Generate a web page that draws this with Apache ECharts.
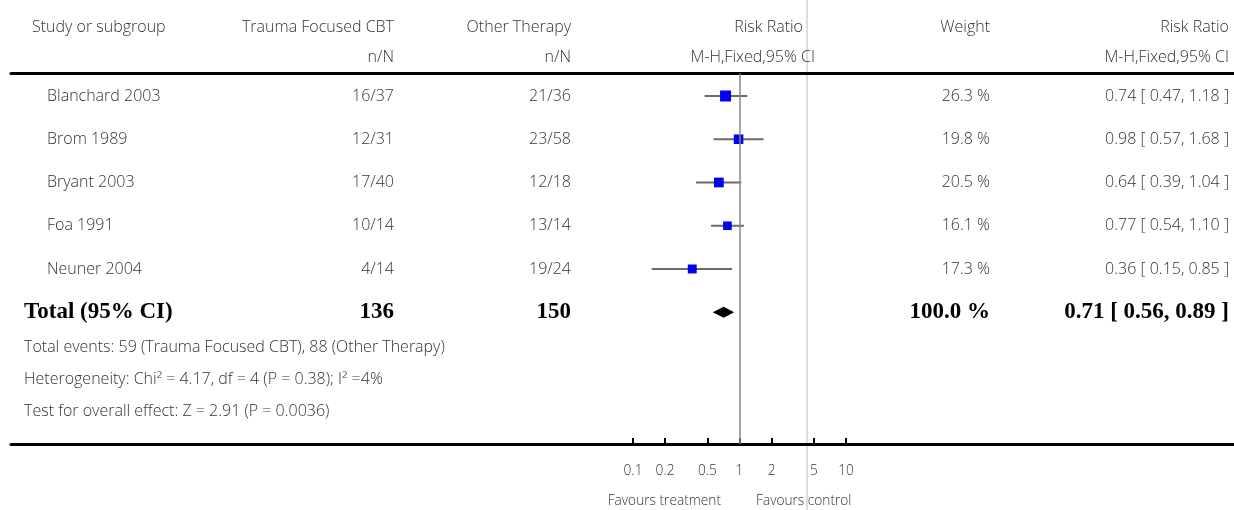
<!DOCTYPE html>
<html>
<head>
<meta charset="utf-8">
<script src="https://cdn.jsdelivr.net/npm/echarts@6/dist/echarts.min.js"></script>
<style>
  html, body { margin: 0; padding: 0; background: #fff; }
  #chart { width: 1234px; height: 510px; }
</style>
</head>
<body>
<div id="chart"></div>
<script>
// study rows
let studies = ['Blanchard 2003', 'Brom 1989', 'Bryant 2003', 'Foa 1991', 'Neuner 2004'];
let treatN = ['16/37', '12/31', '17/40', '10/14', '4/14'];
let controlN = ['21/36', '23/58', '12/18', '13/14', '19/24'];
let riskRatio = [0.74, 0.98, 0.64, 0.77, 0.36];
let ciLow = [0.47, 0.57, 0.39, 0.54, 0.15];
let ciHigh = [1.18, 1.68, 1.04, 1.10, 0.85];
let weights = [26.3, 19.8, 20.5, 16.1, 17.3];

// pooled result
let totalLabel = 'Total (95% CI)';
let totalN = [136, 150];
let totalRR = [0.71, 0.56, 0.89];
let totalWeight = 100.0;

let footnotes = [
  'Total events: 59 (Trauma Focused CBT), 88 (Other Therapy)',
  'Heterogeneity: Chi\u00b2 = 4.17, df = 4 (P = 0.38); I\u00b2 =4%',
  'Test for overall effect: Z = 2.91 (P = 0.0036)'
];

let ticks = [0.1, 0.2, 0.5, 1, 2, 5, 10];
let tickLabels = ['0.1', '0.2', '0.5', '1', '2', '5', '10'];

let font = '"Open Sans", Lato, sans-serif';
let txt = '#333';
let normalFont = '300 16px ' + font;
let smallFont = '300 13.7px ' + font;
let boldFont = 'bold 23px "Liberation Serif", "DejaVu Serif", serif';
let totalRow = studies.length;

function fmt(v) { return v.toFixed(2); }
function ciText(r, l, h) { return fmt(r) + ' [ ' + fmt(l) + ', ' + fmt(h) + ' ]'; }

// one column of text cells placed through the table grid's axes
function textColumn(x, align, texts, rows, f, color) {
  return {
    type: 'custom',
    xAxisIndex: 0,
    yAxisIndex: 0,
    silent: true,
    clip: false,
    data: texts.map((t, i) => [x, rows[i]]),
    renderItem: function (params, api) {
      let p = api.coord([api.value(0), api.value(1)]);
      return {
        type: 'text',
        x: p[0],
        y: p[1],
        style: {
          text: texts[params.dataIndex],
          textAlign: align,
          textVerticalAlign: 'middle',
          font: f,
          fill: color || txt
        }
      };
    }
  };
}

function label(x, y, text, align, f) {
  return {type: 'text', x: x, y: y, style: {text: text, font: f || normalFont, fill: txt, textAlign: align || 'left', textVerticalAlign: 'middle'}};
}

let studyRows = studies.map((s, i) => i);
let rowY = {min: -0.52, max: 8.047};

let forestData = riskRatio.map((r, i) => [r, i, ciLow[i], ciHigh[i], weights[i]]);

let option = {
  animation: false,
  grid: [
    {left: 11, right: 0, top: 73.5, bottom: 66},
    {left: 633, width: 213, top: 73.5, bottom: 66}
  ],
  xAxis: [
    {
      gridIndex: 0, type: 'value', min: 11, max: 1234, position: 'bottom',
      axisLine: {show: true, onZero: false, lineStyle: {color: '#000', width: 3}},
      axisTick: {show: false}, axisLabel: {show: false}, splitLine: {show: false}
    },
    {
      gridIndex: 0, type: 'value', min: 11, max: 1234, position: 'top',
      axisLine: {show: true, onZero: false, lineStyle: {color: '#000', width: 3}},
      axisTick: {show: false}, axisLabel: {show: false}, splitLine: {show: false}
    },
    {
      gridIndex: 1, type: 'log', logBase: 10, min: 0.1, max: 10, position: 'bottom',
      axisLine: {show: false, onZero: false},
      axisTick: {show: true, inside: true, length: 6, customValues: ticks, lineStyle: {color: '#000', width: 2}},
      axisLabel: {
        show: true, customValues: ticks, margin: 20, color: txt, fontFamily: font, fontSize: 13.7, fontWeight: 300,
        formatter: function (v) { return tickLabels[ticks.indexOf(v)] || ''; }
      },
      splitLine: {show: false}
    }
  ],
  yAxis: [
    {gridIndex: 0, type: 'value', inverse: true, min: rowY.min, max: rowY.max, show: false},
    {gridIndex: 1, type: 'value', inverse: true, min: rowY.min, max: rowY.max, show: false}
  ],
  graphic: [
    {type: 'line', shape: {x1: 807, y1: 0, x2: 807, y2: 510}, style: {stroke: '#ddd', lineWidth: 2}, z: -1},
    label(32, 27, 'Study or subgroup'),
    label(394, 27, 'Trauma Focused CBT', 'right'),
    label(394, 57, 'n/N', 'right'),
    label(571, 27, 'Other Therapy', 'right'),
    label(571, 57, 'n/N', 'right'),
    label(803, 27, 'Risk Ratio', 'right'),
    label(815, 57, 'M-H,Fixed,95% CI', 'right'),
    label(990, 27, 'Weight', 'right'),
    label(1229, 27, 'Risk Ratio', 'right'),
    label(1229, 57, 'M-H,Fixed,95% CI', 'right'),
    label(24, 347, footnotes[0]),
    label(24, 379, footnotes[1]),
    label(24, 411, footnotes[2]),
    label(721, 501, 'Favours treatment', 'right', smallFont),
    label(756, 501, 'Favours control', 'left', smallFont)
  ],
  series: [
    textColumn(47, 'left', studies, studyRows, normalFont),
    textColumn(394, 'right', treatN, studyRows, normalFont),
    textColumn(571, 'right', controlN, studyRows, normalFont),
    textColumn(990, 'right', weights.map(w => w.toFixed(1) + ' %'), studyRows, normalFont),
    textColumn(1229, 'right', riskRatio.map((r, i) => ciText(r, ciLow[i], ciHigh[i])), studyRows, normalFont),
    textColumn(24, 'left', [totalLabel], [totalRow], boldFont, '#000'),
    textColumn(394, 'right', [String(totalN[0])], [totalRow], boldFont, '#000'),
    textColumn(571, 'right', [String(totalN[1])], [totalRow], boldFont, '#000'),
    textColumn(990, 'right', [totalWeight.toFixed(1) + ' %'], [totalRow], boldFont, '#000'),
    textColumn(1229, 'right', [ciText(totalRR[0], totalRR[1], totalRR[2])], [totalRow], boldFont, '#000'),
    {
      // study estimates: CI line, weighted square, centre tick
      type: 'custom',
      xAxisIndex: 2,
      yAxisIndex: 1,
      clip: false,
      data: forestData,
      renderItem: function (params, api) {
        let p = api.coord([api.value(0), api.value(1)]);
        let l = api.coord([api.value(2), api.value(1)]);
        let h = api.coord([api.value(3), api.value(1)]);
        let s = 2.15 * Math.sqrt(api.value(4));
        return {
          type: 'group',
          children: [
            {type: 'line', shape: {x1: l[0], y1: p[1], x2: h[0], y2: p[1]}, style: {stroke: '#6b6b6b', lineWidth: 2}},
            {type: 'rect', shape: {x: p[0] - s / 2, y: p[1] - s / 2, width: s, height: s}, style: {fill: '#0000ff'}},
            {type: 'line', shape: {x1: p[0], y1: p[1] - 2.5, x2: p[0], y2: p[1] + 2.5}, style: {stroke: '#222', lineWidth: 1}}
          ]
        };
      },
      markLine: {
        silent: true,
        symbol: ['none', 'none'],
        label: {show: false},
        lineStyle: {color: '#888', width: 1.5, type: 'solid'},
        data: [{xAxis: 1}]
      }
    },
    {
      // pooled diamond
      type: 'custom',
      xAxisIndex: 2,
      yAxisIndex: 1,
      clip: false,
      data: [[totalRR[0], totalRow, totalRR[1], totalRR[2]]],
      renderItem: function (params, api) {
        let p = api.coord([api.value(0), api.value(1)]);
        let l = api.coord([api.value(2), api.value(1)]);
        let h = api.coord([api.value(3), api.value(1)]);
        return {
          type: 'polygon',
          shape: {points: [[l[0], p[1]], [p[0], p[1] - 5.5], [h[0], p[1]], [p[0], p[1] + 5.5]]},
          style: {fill: '#000'}
        };
      }
    }
  ]
};

let myChart = echarts.init(document.getElementById('chart'));
myChart.setOption(option);
</script>
</body>
</html>
